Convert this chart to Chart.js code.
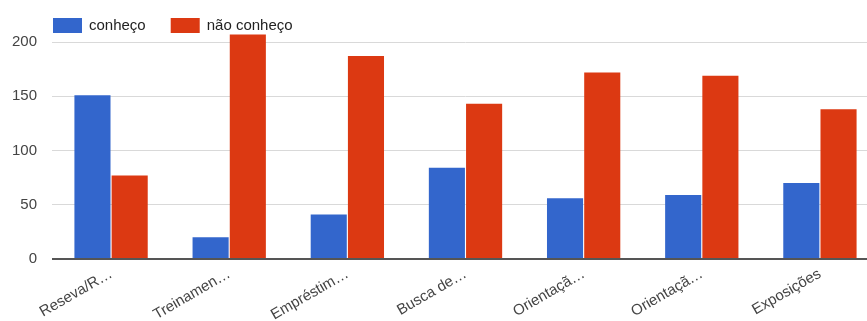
<!DOCTYPE html>
<html>
<head>
<meta charset="utf-8">
<script src="https://cdn.jsdelivr.net/npm/chart.js@4/dist/chart.umd.min.js"></script>
<style>
  html, body { margin: 0; padding: 0; background: #fff; overflow: hidden; }
  #wrap { width: 880px; height: 321px; }
</style>
</head>
<body>
<div id="wrap"><canvas id="c" width="880" height="321"></canvas></div>
<script>
// Services and how many respondents know / don't know each one
const categories = ['Reseva/R…', 'Treinamen…', 'Empréstim…', 'Busca de…', 'Orientaçã…', 'Orientaçã…', 'Exposições'];
const conheco = [151, 20, 41, 84, 56, 59, 70];
const naoConheco = [77, 207, 187, 143, 172, 169, 138];
const seriesNames = ['conheço', 'não conheço'];
const yTicks = [0, 50, 100, 150, 200];

const FONT = '"Liberation Sans", Arial, sans-serif';

// Legend drawn in the top band, left-aligned with the plot
const topLegend = {
  id: 'topLegend',
  afterDraw(chart) {
    const ctx = chart.ctx;
    ctx.save();
    ctx.font = '15px ' + FONT;
    ctx.textBaseline = 'middle';
    ctx.textAlign = 'left';
    let x = 53;
    const y = 18;
    chart.data.datasets.forEach(ds => {
      ctx.fillStyle = ds.backgroundColor;
      ctx.fillRect(x, y, 29, 15);
      ctx.fillStyle = '#222';
      ctx.fillText(ds.label, x + 36, y + 8);
      x += 36 + ctx.measureText(ds.label).width + 25;
    });
    ctx.restore();
  }
};

new Chart(document.getElementById('c'), {
  type: 'bar',
  data: {
    labels: categories,
    datasets: [
      { label: seriesNames[0], data: conheco, backgroundColor: '#3366cc', clip: false },
      { label: seriesNames[1], data: naoConheco, backgroundColor: '#dc3912', clip: false }
    ]
  },
  options: {
    responsive: false,
    animation: false,
    layout: { padding: { top: 42, left: 0, right: 1, bottom: 0 } },
    datasets: { bar: { categoryPercentage: 0.63, barPercentage: 0.97 } },
    plugins: { legend: { display: false }, tooltip: { enabled: false } },
    scales: {
      x: {
        grid: { display: false },
        border: { display: false },
        ticks: {
          color: '#444',
          font: { family: FONT, size: 15 },
          minRotation: 30,
          maxRotation: 30,
          autoSkip: false,
          padding: -2
        },
        afterFit(scale) { scale.height = 62; }
      },
      y: {
        min: 0,
        max: 200,
        afterBuildTicks(scale) { scale.ticks = yTicks.map(v => ({ value: v })); },
        border: { display: false },
        grid: {
          color: ctx => (ctx.tick && ctx.tick.value === 0) ? '#555' : '#d9d9d9',
          lineWidth: ctx => (ctx.tick && ctx.tick.value === 0) ? 2 : 1,
          drawTicks: false
        },
        ticks: {
          color: '#444',
          font: { family: FONT, size: 15 },
          padding: 15
        },
        afterFit(scale) { scale.width = 52; }
      }
    }
  },
  plugins: [topLegend]
});
</script>
</body>
</html>
